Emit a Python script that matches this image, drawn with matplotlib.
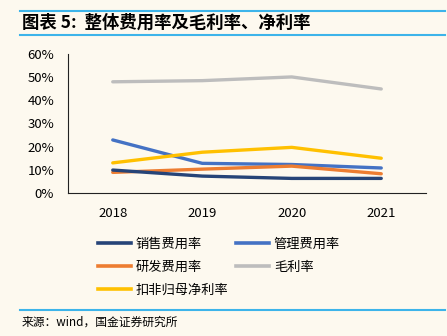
import numpy as np
import matplotlib.pyplot as plt
from matplotlib.lines import Line2D

plt.rcParams['font.family'] = ['Noto Sans CJK SC', 'DejaVu Sans']

years = ['2018', '2019', '2020', '2021']
sales_rate = [9.9, 7.3, 6.3, 6.3]
admin_rate = [22.9, 12.8, 12.3, 10.8]
rd_rate = [8.9, 10.3, 11.6, 8.3]
gross_margin = [48.0, 48.5, 50.1, 44.9]
net_margin = [13.0, 17.6, 19.7, 15.0]

names = ['销售费用率', '管理费用率', '研发费用率', '毛利率', '扣非归母净利率']
colors = ['#264478', '#4472C4', '#ED7D31', '#BDBDBD', '#FFC000']
series = [sales_rate, admin_rate, rd_rate, gross_margin, net_margin]

bg = '#FDF9EF'
rule = '#3DB4EA'

fig = plt.figure(figsize=(4.47, 3.36), dpi=100, facecolor=bg)
ax = fig.add_axes([68/447, 1 - 193/336, (426-68)/447, (193-54)/336])
ax.set_facecolor(bg)

x = np.arange(len(years))
order = [3, 1, 4, 2, 0]
for i in order:
    ax.plot(x, series[i], color=colors[i], lw=2.4, solid_capstyle='round', zorder=3)

ax.set_xlim(-0.5, 3.5)
ax.set_ylim(0, 60)
ax.set_yticks(range(0, 61, 10))
ax.set_yticklabels([f'{v}%' for v in range(0, 61, 10)], fontsize=9.5)
ax.set_xticks(x)
ax.set_xticklabels(years, fontsize=9.5)
ax.tick_params(axis='y', length=0, pad=10)
ax.tick_params(axis='x', length=0, pad=10)
for s in ['top', 'right']:
    ax.spines[s].set_visible(False)
for s in ['left', 'bottom']:
    ax.spines[s].set_color('#222222')
    ax.spines[s].set_linewidth(0.8)

handles = [Line2D([], [], color=c, lw=2.6) for c in colors]
leg = fig.legend([handles[0], handles[2], handles[4], handles[1], handles[3]],
                 [names[0], names[2], names[4], names[1], names[3]],
                 ncol=2, loc='upper left', bbox_to_anchor=(86/447, 1 - 226/336),
                 frameon=False, fontsize=9.5, handlelength=2.5, handletextpad=0.35,
                 columnspacing=0.6, labelspacing=0.75)

# header / footer rules
fig.add_artist(Line2D([20/447, 445/447], [1 - 11/336, 1 - 11/336], color=rule, lw=1.5))
fig.add_artist(Line2D([20/447, 445/447], [1 - 35/336, 1 - 35/336], color=rule, lw=1.5))
fig.add_artist(Line2D([20/447, 445/447], [1 - 310/336, 1 - 310/336], color=rule, lw=1.5))

fig.text(22/447, 1 - 23/336, '图表 5:  整体费用率及毛利率、净利率', fontsize=12.5,
         fontweight='bold', fontstyle='italic', va='center', ha='left')
fig.text(22/447, 1 - 322/336, '来源：wind，国金证券研究所', fontsize=8.5,
         va='center', ha='left')

fig.savefig('out.png', dpi=100, facecolor=bg)
